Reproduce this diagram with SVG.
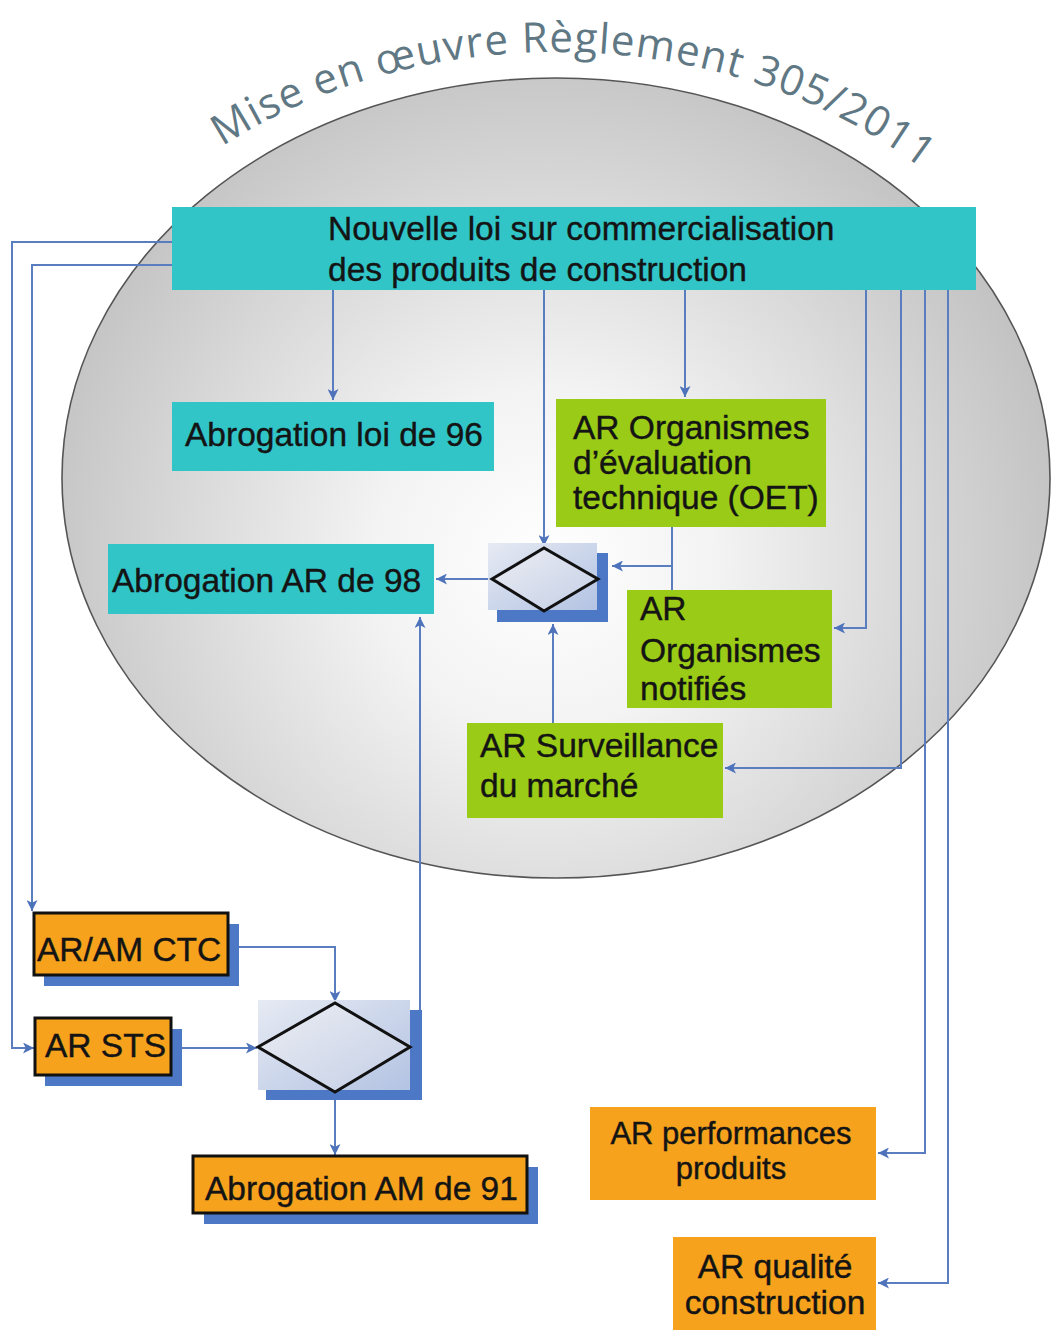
<svg xmlns="http://www.w3.org/2000/svg" width="1052" height="1330" viewBox="0 0 1052 1330">
<defs>
<radialGradient id="gEll" gradientUnits="userSpaceOnUse" cx="545" cy="560" r="520">
<stop offset="0" stop-color="#ffffff"/>
<stop offset="0.33" stop-color="#f3f3f3"/>
<stop offset="1" stop-color="#c3c3c3"/>
</radialGradient>
<linearGradient id="gDec" x1="0" y1="0" x2="1" y2="1">
<stop offset="0" stop-color="#e6eaf3"/>
<stop offset="1" stop-color="#b3c3e3"/>
</linearGradient>
<linearGradient id="gDia" x1="0" y1="0" x2="1" y2="1">
<stop offset="0" stop-color="#eceef3"/>
<stop offset="1" stop-color="#c3cee6"/>
</linearGradient>
<marker id="arr" viewBox="0 0 10 10" refX="10" refY="5" markerWidth="11" markerHeight="11" markerUnits="userSpaceOnUse" orient="auto">
<path d="M0,0 L10,5 L0,10 L2.5,5 z" fill="#4f73bb"/>
</marker>
<path id="arcPath" d="M180,177 A530,423 0 0 1 960,201" fill="none"/>
</defs>
<style>
.lbl{font-family:"Liberation Sans",Arial,sans-serif;font-size:33.5px;fill:#141414;stroke:#141414;stroke-width:0.4;}
.sm{font-size:31px;}
.mid{text-anchor:middle;}
.teal{fill:#31c5c8;}
.green{fill:#9acb16;}
.orange{fill:#f6a21d;}
.obox{fill:#f6a21d;stroke:#111;stroke-width:3;}
.shadow{fill:#4d78c6;}
.conn{fill:none;stroke:#5a7dc0;stroke-width:2;}
.arw{marker-end:url(#arr);}
.dia{fill:url(#gDia);stroke:#111;stroke-width:3;stroke-linejoin:miter;}
.title{font-family:"Open Sans","DejaVu Sans",sans-serif;font-size:42px;fill:#5f7884;}
</style>
<rect width="1052" height="1330" fill="#ffffff"/>
<g id="background">
<ellipse cx="556" cy="478" rx="494" ry="400" fill="url(#gEll)" stroke="#555" stroke-width="1.6"/>
<text class="title"><textPath href="#arcPath" startOffset="52" textLength="742" lengthAdjust="spacing">Mise en œuvre Règlement 305/2011</textPath></text>
</g>
<g id="connectors">
<path class="conn arw" d="M172,242 H12 V1048 H34"/>
<path class="conn arw" d="M172,265 H32 V911"/>
<path class="conn arw" d="M333,290 V400"/>
<path class="conn arw" d="M544,290 V546"/>
<path class="conn arw" d="M685,290 V397"/>
<path class="conn arw" d="M866,290 V628 H834"/>
<path class="conn arw" d="M901,290 V768 H725"/>
<path class="conn arw" d="M925,290 V1153 H878"/>
<path class="conn arw" d="M948,290 V1283 H878"/>
<path class="conn" d="M672,527 V590"/>
<path class="conn arw" d="M672,566 H612"/>
<path class="conn arw" d="M553,723 V624"/>
<path class="conn arw" d="M490,579 H436"/>
<path class="conn arw" d="M228,947 H335 V1002"/>
<path class="conn arw" d="M170,1048 H257"/>
<path class="conn arw" d="M335,1100 V1155"/>
<path class="conn arw" d="M420,1010 V617"/>
</g>
<g id="node-nouvelle-loi">
<rect class="teal" x="172" y="207" width="804" height="83"/>
<text class="lbl" x="328" y="240">Nouvelle loi sur commercialisation</text>
<text class="lbl" x="328" y="281">des produits de construction</text>
</g>
<g id="node-abrogation-loi-96">
<rect class="teal" x="172" y="402" width="322" height="69"/>
<text class="lbl" x="185" y="446">Abrogation loi de 96</text>
</g>
<g id="node-abrogation-ar-98">
<rect class="teal" x="108" y="544" width="326" height="70"/>
<text class="lbl" x="112" y="592">Abrogation AR de 98</text>
</g>
<g id="node-ar-oet">
<rect class="green" x="556" y="399" width="270" height="128"/>
<text class="lbl" x="573" y="439">AR Organismes</text>
<text class="lbl" x="573" y="474">d’évaluation</text>
<text class="lbl" x="573" y="509">technique (OET)</text>
</g>
<g id="node-ar-notifies">
<rect class="green" x="627" y="590" width="205" height="118"/>
<text class="lbl" x="640" y="620">AR</text>
<text class="lbl" x="640" y="662">Organismes</text>
<text class="lbl" x="640" y="700">notifiés</text>
</g>
<g id="node-ar-surveillance">
<rect class="green" x="467" y="723" width="256" height="95"/>
<text class="lbl" x="480" y="757">AR Surveillance</text>
<text class="lbl" x="480" y="797">du marché</text>
</g>
<g id="node-decision-1">
<rect class="shadow" x="497" y="553" width="111" height="69"/>
<rect fill="url(#gDec)" x="488" y="543" width="109" height="67"/>
<polygon class="dia" points="492,579 544,548 598,579 544,611"/>
</g>
<g id="node-ar-am-ctc">
<rect class="shadow" x="44" y="924" width="195" height="62"/>
<rect class="obox" x="34" y="913" width="194" height="62"/>
<text class="lbl" x="37" y="961">AR/AM CTC</text>
</g>
<g id="node-ar-sts">
<rect class="shadow" x="45" y="1029" width="137" height="57"/>
<rect class="obox" x="35" y="1018" width="136" height="57"/>
<text class="lbl" x="45" y="1057">AR STS</text>
</g>
<g id="node-decision-2">
<rect class="shadow" x="266" y="1010" width="156" height="90"/>
<rect fill="url(#gDec)" x="258" y="1000" width="152" height="90"/>
<polygon class="dia" points="258,1047 335,1003 410,1047 335,1092"/>
</g>
<g id="node-abrogation-am-91">
<rect class="shadow" x="204" y="1167" width="334" height="57"/>
<rect class="obox" x="193" y="1156" width="334" height="57"/>
<text class="lbl" x="205" y="1200">Abrogation AM de 91</text>
</g>
<g id="node-ar-performances">
<rect class="orange" x="590" y="1107" width="286" height="93"/>
<text class="lbl sm mid" x="731" y="1144">AR performances</text>
<text class="lbl sm mid" x="731" y="1179">produits</text>
</g>
<g id="node-ar-qualite">
<rect class="orange" x="673" y="1237" width="203" height="93"/>
<text class="lbl mid" x="775" y="1278">AR qualité</text>
<text class="lbl mid" x="775" y="1314">construction</text>
</g>
</svg>
